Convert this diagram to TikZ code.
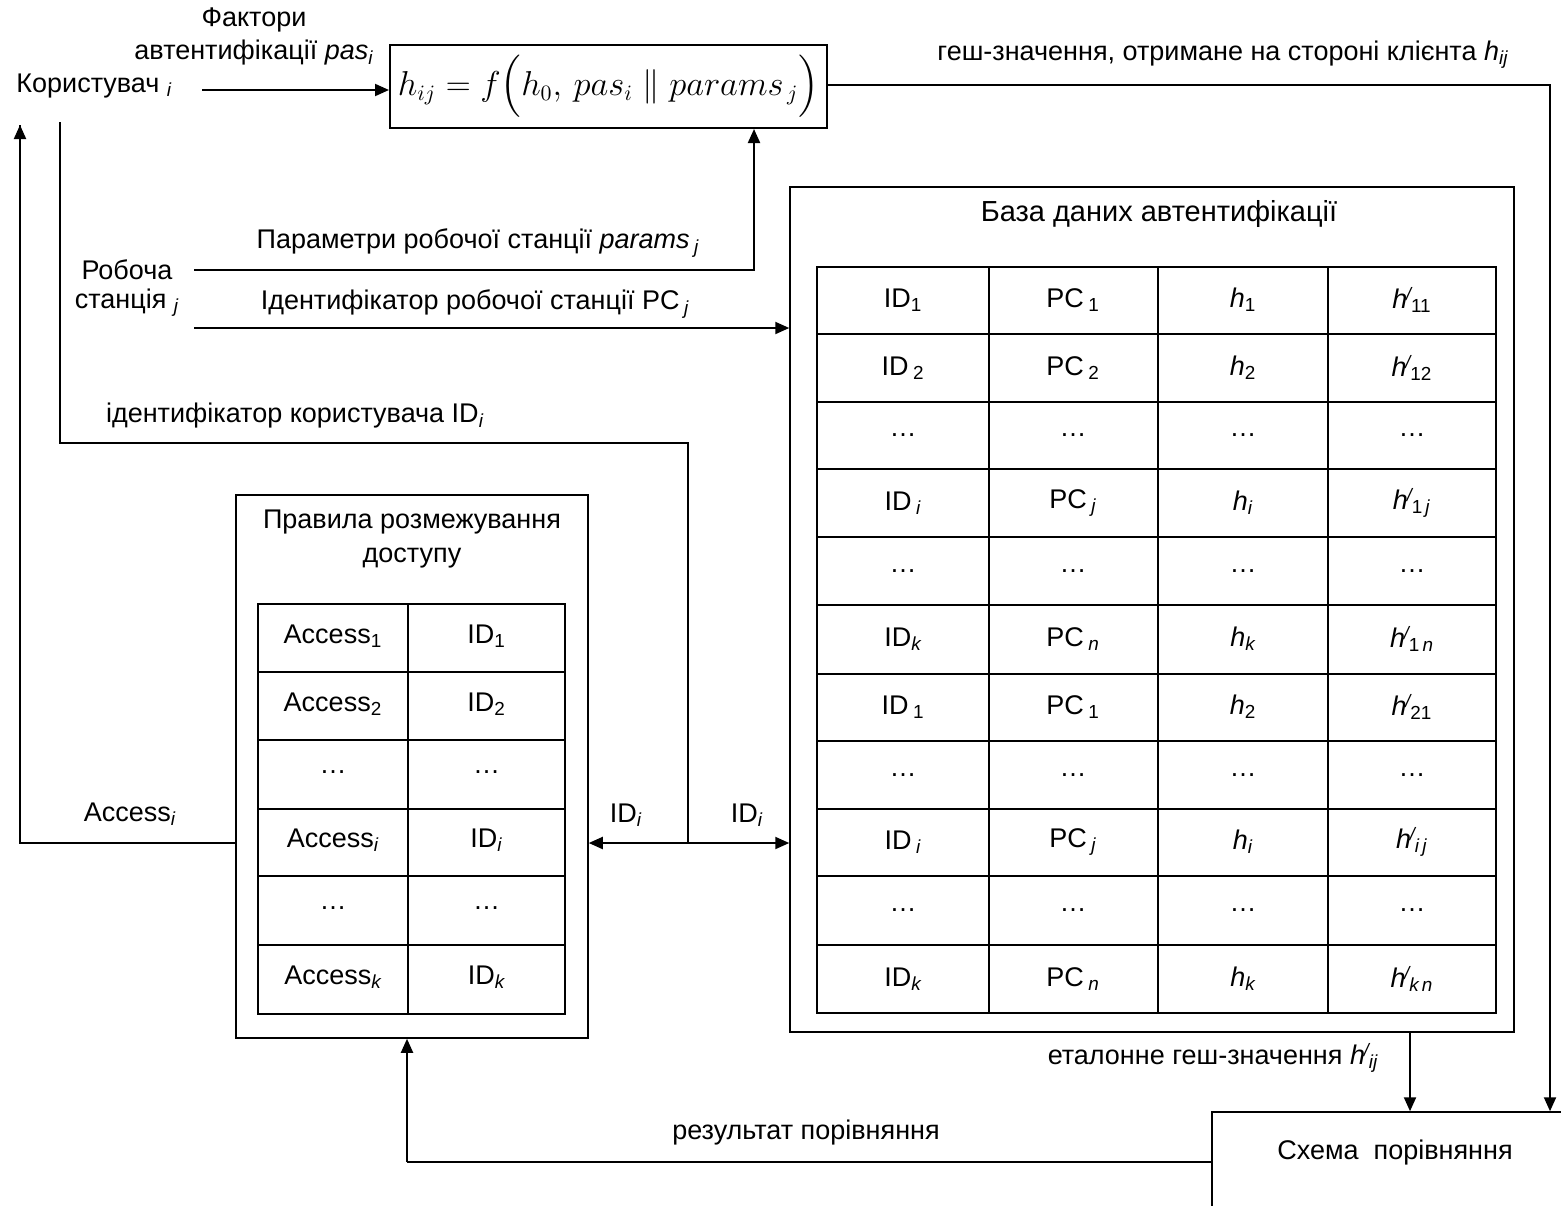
\documentclass[tikz,border=0pt]{standalone}
\usepackage{amsmath}
\usepackage{fontspec}
\setmainfont{Liberation Sans}
\usetikzlibrary{arrows.meta}

\newcommand{\lsub}[1]{\textsubscript{#1}}
\newcommand{\isub}[1]{\textsubscript{\itshape #1}}
\newcommand{\hpr}{\textit{h}\kern-.6pt\raisebox{.55ex}{\fontsize{9}{9}\selectfont\itshape /}}

\tikzset{
  lbl/.style={inner sep=0pt},
  arr/.style={line width=1pt, -{Triangle[length=7pt,width=6pt]}},
  dblarr/.style={line width=1pt, {Triangle[length=7pt,width=6pt]}-{Triangle[length=7pt,width=6pt]}},
  wire/.style={line width=0.75pt},
  box/.style={draw, line width=0.75pt, inner sep=0pt},
}

\begin{document}
\begin{tikzpicture}[x=0.5pt, y=-0.5pt, font=\fontsize{13.5}{16}\selectfont]
    \clip (0,0) rectangle (1561,1205);

    % blocks
    \node[box, line width=1pt, minimum width=218.5pt, minimum height=41.5pt] (formula) at (608.5,86.5)
          {\fontsize{16}{19}\selectfont $h_{ij} = f\Bigl(h_0,\, pas_i \parallel params_{\,j}\Bigr)$};
    \node[box, minimum width=362pt, minimum height=422.5pt] (db) at (1152,609.5) {};
    \node[box, minimum width=176pt, minimum height=271.5pt] (rules) at (412,766.5) {};
    \node[box, minimum width=204pt, minimum height=74pt] (cmp) at (1416,1186) {};

    % labels
    \draw (254,20)    node[lbl] (fact)   {Фактори}
          (254,53)    node[lbl] (auth)   {автентифікації \textit{pas}\isub{i}}
          (16,86)     node[lbl, anchor=west] (user) {Користувач \isub{i}}
          (1223,55)   node[lbl] (hcl)    {геш-значення, отримане на стороні клієнта \textit{h}\isub{ij}}
          (127,270)   node[lbl] (ws1)    {Робоча}
          (127,303)   node[lbl] (ws2)    {станція \isub{j}}
          (478,243)   node[lbl] (par)    {Параметри робочої станції \textit{params}\,\isub{j}}
          (475,304)   node[lbl] (pcid)   {Ідентифікатор робочої станції PC\,\isub{j}}
          (295,416)   node[lbl] (uid)    {ідентифікатор користувача ID\isub{i}}
          (130,814)   node[lbl] (acc)    {Access\isub{i}}
          (626,815)   node[lbl] (idl)    {ID\isub{i}}
          (747,815)   node[lbl] (idr)    {ID\isub{i}}
          (806,1132)  node[lbl] (res)    {результат порівняння}
          (1213,1058) node[lbl] (etl)    {еталонне геш-значення \hpr\isub{ij}}
          (1395,1152) node[lbl] (cmpt)   {Схема \ порівняння}
          (1159,214)  node[lbl, font=\fontsize{14.5}{17}\selectfont] (dbt) {База даних автентифікації}
          (412,539)   node[lbl, align=center, font=\fontsize{13.5}{17}\selectfont] (rlt)
                      {Правила розмежування\\доступу};

    % authentication database table
    \draw[line width=1pt] (817,267) rectangle (1496,1013)
          (989,267) -- (989,1013)
          (1158,267) -- (1158,1013)
          (1328,267) -- (1328,1013)
          (817,334) -- (1496,334)   (817,402) -- (1496,402)
          (817,469) -- (1496,469)   (817,537) -- (1496,537)
          (817,605) -- (1496,605)   (817,674) -- (1496,674)
          (817,741) -- (1496,741)   (817,809) -- (1496,809)
          (817,876) -- (1496,876)   (817,945) -- (1496,945);
    \draw (903,300)  node (d11) {ID\lsub{1}}       (1073,300)  node (d12) {PC\,\lsub{1}}
          (1243,300) node (d13) {\textit{h}\lsub{1}} (1412,300) node (d14) {\hpr\lsub{11}}
          (903,368)  node (d21) {ID\,\lsub{2}}     (1073,368)  node (d22) {PC\,\lsub{2}}
          (1243,368) node (d23) {\textit{h}\lsub{2}} (1412,368) node (d24) {\hpr\lsub{12}}
          (903,435)  node (d31) {…} (1073,435) node (d32) {…} (1243,435) node (d33) {…} (1412,435) node (d34) {…}
          (903,503)  node (d41) {ID\,\isub{i}}     (1073,503)  node (d42) {PC\,\isub{j}}
          (1243,503) node (d43) {\textit{h}\isub{i}} (1412,503) node (d44) {\hpr\lsub{1\,\textit{j}}}
          (903,571)  node (d51) {…} (1073,571) node (d52) {…} (1243,571) node (d53) {…} (1412,571) node (d54) {…}
          (903,639)  node (d61) {ID\isub{k}}       (1073,639)  node (d62) {PC\,\isub{n}}
          (1243,639) node (d63) {\textit{h}\isub{k}} (1412,639) node (d64) {\hpr\lsub{1\,\textit{n}}}
          (903,707)  node (d71) {ID\,\lsub{1}}     (1073,707)  node (d72) {PC\,\lsub{1}}
          (1243,707) node (d73) {\textit{h}\lsub{2}} (1412,707) node (d74) {\hpr\lsub{21}}
          (903,775)  node (d81) {…} (1073,775) node (d82) {…} (1243,775) node (d83) {…} (1412,775) node (d84) {…}
          (903,842)  node (d91) {ID\,\isub{i}}     (1073,842)  node (d92) {PC\,\isub{j}}
          (1243,842) node (d93) {\textit{h}\isub{i}} (1412,842) node (d94) {\hpr\lsub{\textit{i\,j}}}
          (903,910)  node (da1) {…} (1073,910) node (da2) {…} (1243,910) node (da3) {…} (1412,910) node (da4) {…}
          (903,979)  node (db1) {ID\isub{k}}       (1073,979)  node (db2) {PC\,\isub{n}}
          (1243,979) node (db3) {\textit{h}\isub{k}} (1412,979) node (db4) {\hpr\lsub{\textit{k\,n}}};

    % access rules table
    \draw[line width=1pt] (258,604) rectangle (565,1014)
          (408,604) -- (408,1014)
          (258,672) -- (565,672)   (258,740) -- (565,740)
          (258,809) -- (565,809)   (258,876) -- (565,876)
          (258,945) -- (565,945);
    \draw (333,636)   node (r11) {Access\lsub{1}}   (486.5,636) node (r12) {ID\lsub{1}}
          (333,704)   node (r21) {Access\lsub{2}}   (486.5,704) node (r22) {ID\lsub{2}}
          (333,772)   node (r31) {…}               (486.5,772) node (r32) {…}
          (333,840)   node (r41) {Access\isub{i}}   (486.5,840) node (r42) {ID\isub{i}}
          (333,908)   node (r51) {…}               (486.5,908) node (r52) {…}
          (333,977)   node (r61) {Access\isub{k}}   (486.5,977) node (r62) {ID\isub{k}};

    % connectors
    \coordinate (ustart) at (202,90);
    \coordinate (hbend)  at (1550,85);
    \coordinate (pstart) at (194,270);
    \coordinate (pbend)  at (754,270);
    \coordinate (pcstart) at (194,328);
    \coordinate (idtop)  at (60,122);
    \coordinate (idbend) at (688,443);
    \coordinate (idarr)  at (688,843);
    \coordinate (accbend) at (20,843);
    \coordinate (acctop) at (20,125);
    \coordinate (etal)   at (1410,1032);
    \coordinate (resbend) at (407,1162);

    \draw[arr] (ustart) -- (ustart -| formula.west);
    \draw[arr] (formula.east |- hbend) -- (hbend) -- (hbend |- cmp.north);
    \draw[arr] (pstart) -- (pbend) -- (pbend |- formula.south);
    \draw[arr] (pcstart) -- (pcstart -| db.west);
    \draw[wire] (idtop) -- (idtop |- idbend) -- (idbend) -- (idarr);
    \draw[dblarr] (rules.east |- idarr) -- (db.west |- idarr);
    \draw[wire] (rules.west |- accbend) -- (accbend) -- (acctop);
    \draw[arr] (accbend) -- (acctop);
    \draw[arr] (etal) -- (etal |- cmp.north);
    \draw[wire] (cmp.west |- resbend) -- (resbend);
    \draw[arr] (resbend) -- (resbend |- rules.south);
\end{tikzpicture}
\end{document}
